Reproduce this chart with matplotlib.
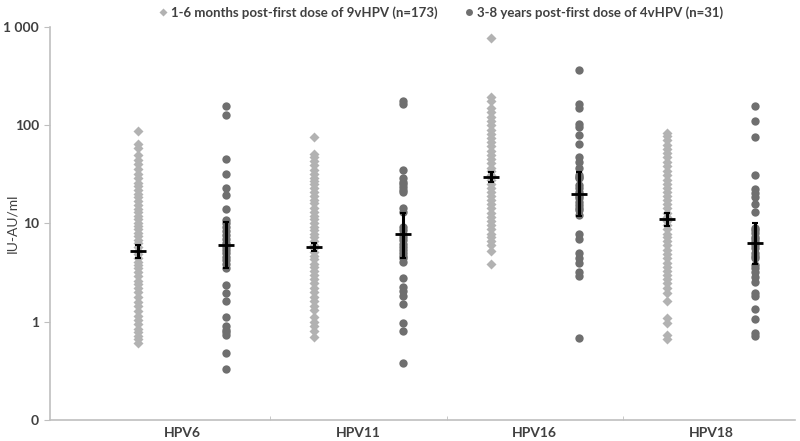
import matplotlib
matplotlib.use('Agg')
import matplotlib.pyplot as plt
from matplotlib.lines import Line2D

plt.rcParams['font.family'] = ['Lato', 'DejaVu Sans']

types = ['HPV6', 'HPV11', 'HPV16', 'HPV18']
label_9v = '1-6 months post-first dose of 9vHPV (n=173)'
label_4v = '3-8 years post-first dose of 4vHPV (n=31)'

# individual titres (visible markers)
v9_hpv6 = [87.5, 65, 58, 50, 44, 40, 36, 32, 29, 26, 24, 22, 20, 18.5, 17, 15.5, 14, 13, 12, 11,
           10.2, 9.5, 8.8, 8, 7.4, 6.8, 6.3, 5.8, 5.3, 4.9, 4.5, 4.1, 3.8, 3.5, 3.2, 2.9, 2.6,
           2.4, 2.2, 2.0, 1.8, 1.6, 1.45, 1.3, 1.15, 1.05, 0.95, 0.85, 0.78, 0.72, 0.66, 0.61]
v9_hpv11 = [76, 51, 47, 43, 39, 35, 32, 29, 27, 25, 23, 21, 19, 17.5, 16, 14.5, 13, 12, 11, 10,
            9.2, 8.5, 7.8, 7.2, 6.6, 6.1, 5.6, 5.1, 4.7, 4.3, 3.9, 3.6, 3.3, 3.0, 2.7, 2.45, 2.2,
            2.0, 1.8, 1.62, 1.46, 1.32, 1.13, 1.0, 0.9, 0.8, 0.70]
v9_hpv16 = [777, 194, 178, 148, 135, 122, 110, 100, 90, 82, 74, 67, 61, 55, 50, 45, 41, 37, 34,
            31, 28, 25.5, 23, 21, 19, 17.3, 15.7, 14.2, 12.9, 11.7, 10.6, 9.6, 8.7, 7.9, 7.2,
            6.6, 6.05, 5.2, 3.85]
v9_hpv18 = [83.5, 77, 70, 63, 57, 52, 47, 42, 38, 34, 31, 28, 25.5, 23, 21, 19, 17.3, 15.7, 14.2,
            12.9, 11.7, 10.6, 9.6, 8.7, 7.9, 7.2, 6.6, 6.0, 5.4, 4.9, 4.4, 4.0, 3.6, 3.3, 3.0,
            2.7, 2.45, 2.2, 1.96, 1.61, 1.09, 0.97, 0.74, 0.66]

v4_hpv6 = [157, 127, 44.9, 32, 23, 19.5, 13.9, 10.9, 10.0, 9.3, 8.4, 7.6, 7.0, 6.3, 5.8, 5.4,
           5.0, 4.6, 4.2, 3.9, 3.5, 2.37, 1.98, 1.63, 1.12, 0.90, 0.82, 0.78, 0.74, 0.48, 0.33]
v4_hpv11 = [175, 165, 34.9, 28.7, 26.6, 25, 23.6, 22, 21, 14.3, 13.2, 9.3, 8.5, 7.9, 7.35, 6.8,
            6.2, 5.8, 5.4, 5.0, 4.7, 4.4, 4.1, 2.8, 2.28, 2.06, 1.81, 1.51, 0.97, 0.81, 0.38]
v4_hpv16 = [368, 163, 148, 104, 96, 79, 65, 47.6, 42.3, 36.3, 31, 30, 28.7, 24.6, 23, 21, 19,
            18, 16.5, 15.4, 14.5, 13.7, 12.2, 7.8, 6.9, 5.0, 4.4, 3.95, 3.24, 2.95, 0.68]
v4_hpv18 = [156, 110.6, 75, 31, 22.2, 20.2, 18.7, 15.8, 13.1, 9.0, 8.5, 7.95, 7.35, 7.0, 6.5,
            6.0, 5.6, 5.0, 4.7, 4.4, 3.8, 3.5, 3.24, 2.88, 2.56, 1.96, 1.81, 1.35, 1.06, 0.77, 0.71]

# geometric mean titres and 95% CI
gmt_9v = [5.3, 5.8, 29.4, 11.0]
lo_9v = [4.5, 5.2, 26.2, 9.5]
hi_9v = [6.05, 6.4, 33.5, 12.7]
gmt_4v = [6.05, 7.8, 20.0, 6.3]
lo_4v = [3.5, 4.4, 12.0, 3.85]
hi_4v = [10.4, 12.8, 33.6, 10.2]

v9 = [v9_hpv6, v9_hpv11, v9_hpv16, v9_hpv18]
v4 = [v4_hpv6, v4_hpv11, v4_hpv16, v4_hpv18]

c9 = '#b2b2b2'
c4 = '#6f6f6f'
txt = '#404040'
axc = '#bfbfbf'

fig = plt.figure(figsize=(8, 4.41), dpi=100)
ax = fig.add_axes([0.0625, 0.0476, 0.931, 0.8914])

for i in range(4):
    x9 = 1 + 2 * i
    x4 = 2 + 2 * i
    ax.plot([x9] * len(v9[i]), v9[i], 'D', color=c9, markersize=4.6, mec='none', zorder=2)
    ax.plot([x4] * len(v4[i]), v4[i], 'o', color=c4, markersize=6.0, mec='none', zorder=2)
    for x, g, lo, hi in [(x9, gmt_9v[i], lo_9v[i], hi_9v[i]), (x4, gmt_4v[i], lo_4v[i], hi_4v[i])]:
        ax.errorbar([x], [g], yerr=[[g - lo], [hi - g]], fmt='none', ecolor='black',
                    elinewidth=2.2, capsize=2, capthick=1.5, zorder=4)
        ax.plot([x], [g], marker='_', color='black', markersize=11, mew=2, zorder=5)

ax.set_yscale('log')
ax.set_ylim(0.1, 1000)
ax.set_xlim(0, 8.45)
ax.set_yticks([0.1, 1, 10, 100, 1000])
ax.set_yticklabels(['0', '1', '10', '100', '1 000'])
ax.yaxis.set_minor_locator(matplotlib.ticker.NullLocator())
ax.set_xticks([1.5, 3.5, 5.5, 7.5])
ax.set_xticklabels(types)
ax.set_xticks([2.5, 4.5, 6.5], minor=True)
ax.tick_params(axis='x', which='major', length=0, pad=5)
ax.tick_params(axis='x', which='minor', length=3, color=axc, direction='in')
ax.tick_params(axis='y', length=4, color=axc, pad=4)
for lab in ax.get_xticklabels() + ax.get_yticklabels():
    lab.set_fontweight('bold')
    lab.set_color(txt)
    lab.set_fontsize(10)

for s in ['top', 'right']:
    ax.spines[s].set_visible(False)
for s in ['left', 'bottom']:
    ax.spines[s].set_color(axc)
    ax.spines[s].set_linewidth(1.2)

ax.set_ylabel('IU-AU/ml', color=txt, fontsize=10)
ax.yaxis.set_label_coords(-0.042, 0.5)

handles = [Line2D([], [], marker='D', color=c9, ls='none', markersize=4, mec='none'),
           Line2D([], [], marker='o', color=c4, ls='none', markersize=5, mec='none')]
leg = fig.legend(handles, [label_9v, label_4v], loc='center', bbox_to_anchor=(0.551, 0.972),
                 ncol=2, frameon=False, handlelength=0.7, handletextpad=0.3, columnspacing=2.0,
                 prop={'weight': 'bold', 'size': 9.5})
for t in leg.get_texts():
    t.set_color(txt)

fig.savefig('out.png', dpi=100)
